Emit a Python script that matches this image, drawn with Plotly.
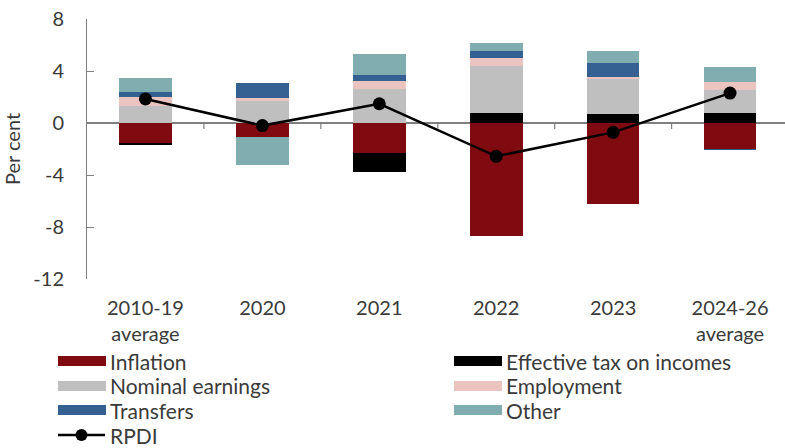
import plotly.graph_objects as go

# Contributions to real personal disposable income growth (percentage points)
categories = ["2010-19<br>average", "2020", "2021", "2022", "2023", "2024-26<br>average"]
inflation = [-1.60, -1.10, -2.30, -8.72, -6.25, -2.00]
effective_tax = [-0.08, 0.00, -1.47, 0.75, 0.67, 0.77]
nominal_earnings = [1.33, 1.72, 2.64, 3.64, 2.79, 1.77]
employment = [0.69, 0.20, 0.56, 0.59, 0.08, 0.64]
transfers = [0.34, 1.13, 0.47, 0.56, 1.05, -0.05]
other = [1.12, -2.10, 1.61, 0.64, 0.93, 1.16]
rpdi = [1.85, -0.20, 1.48, -2.56, -0.72, 2.30]

series = [
    ("Inflation", inflation, "#7F0A10"),
    ("Effective tax on incomes", effective_tax, "#000000"),
    ("Nominal earnings", nominal_earnings, "#BFBFBF"),
    ("Employment", employment, "#EBC4BF"),
    ("Transfers", transfers, "#356092"),
    ("Other", other, "#80ADB0"),
]

TEXT = "#3A3A3A"
GRID = "#808080"
FONT = "Lato"

W, H = 785, 448
L, R, T, B = 87, 0, 19, 169
PW, PH = W - L - R, H - T - B

fig = go.Figure()
for name, vals, color in series:
    fig.add_trace(go.Bar(
        x=categories, y=vals, name=name, width=0.45,
        marker=dict(color=color, line=dict(width=0)),
        showlegend=False,
    ))

fig.add_trace(go.Scatter(
    x=categories, y=rpdi, name="RPDI", mode="lines+markers",
    line=dict(color="#000000", width=2.5),
    marker=dict(color="#000000", size=13),
    showlegend=False,
))

# small tick marks on the zero line between categories
shapes = []
for i in range(len(categories) - 1):
    shapes.append(dict(
        type="line", xref="x", yref="y", ysizemode="pixel", yanchor=0,
        x0=i + 0.5, x1=i + 0.5, y0=0, y1=-6,
        line=dict(color=GRID, width=1.2),
    ))


def px(xp):
    return (xp - L) / PW


def py(yp):
    return (H - B - yp) / PH


# legend drawn as swatches plus labels, two columns
legend_items = [
    ("Inflation", "#7F0A10", 58, 361),
    ("Effective tax on incomes", "#000000", 454, 361),
    ("Nominal earnings", "#BFBFBF", 58, 386),
    ("Employment", "#EBC4BF", 454, 386),
    ("Transfers", "#356092", 58, 410),
    ("Other", "#80ADB0", 454, 410),
]
annotations = []
for label, color, x0, yc in legend_items:
    shapes.append(dict(
        type="rect", xref="paper", yref="paper",
        x0=px(x0), x1=px(x0 + 48), y0=py(yc - 5), y1=py(yc + 5),
        fillcolor=color, line=dict(width=0),
    ))
    annotations.append(dict(
        x=px(x0 + 50), y=py(yc), xref="paper", yref="paper",
        text=label, showarrow=False, xanchor="left", yanchor="middle",
        font=dict(family=FONT, size=21, color=TEXT),
    ))

# RPDI legend entry
shapes.append(dict(
    type="line", xref="paper", yref="paper",
    x0=px(58), x1=px(105), y0=py(435), y1=py(435),
    line=dict(color="#000000", width=2.5),
))
shapes.append(dict(
    type="circle", xref="paper", yref="paper",
    x0=px(75.5), x1=px(87.5), y0=py(441), y1=py(429),
    fillcolor="#000000", line=dict(width=0),
))
annotations.append(dict(
    x=px(108), y=py(435), xref="paper", yref="paper",
    text="RPDI", showarrow=False, xanchor="left", yanchor="middle",
    font=dict(family=FONT, size=21, color=TEXT),
))

fig.update_layout(
    width=W, height=H,
    margin=dict(l=L, r=R, t=T, b=B, pad=0),
    barmode="relative",
    bargap=0,
    plot_bgcolor="white",
    paper_bgcolor="white",
    font=dict(family=FONT, size=20, color=TEXT),
    shapes=shapes,
    annotations=annotations,
    showlegend=False,
)

fig.update_xaxes(
    type="category",
    range=[-0.5, 5.47],
    showgrid=False, showline=False, zeroline=False,
    ticks="", ticklabelstandoff=15,
    tickfont=dict(family=FONT, size=20, color=TEXT),
)

fig.update_yaxes(
    range=[-12, 8],
    tickvals=[-12, -8, -4, 0, 4, 8],
    ticktext=["-12", "-8", "-4", "0", "4", "8"],
    showgrid=False,
    showline=True, linecolor=GRID, linewidth=1,
    ticks="inside", ticklen=7, tickcolor=GRID, tickwidth=1,
    zeroline=True, zerolinecolor=GRID, zerolinewidth=1.5,
    layer="above traces",
    ticklabelstandoff=18,
    tickfont=dict(family=FONT, size=20, color=TEXT),
    title=dict(text="Per cent", font=dict(family=FONT, size=20, color=TEXT), standoff=9),
)

fig.write_html("out.html")
